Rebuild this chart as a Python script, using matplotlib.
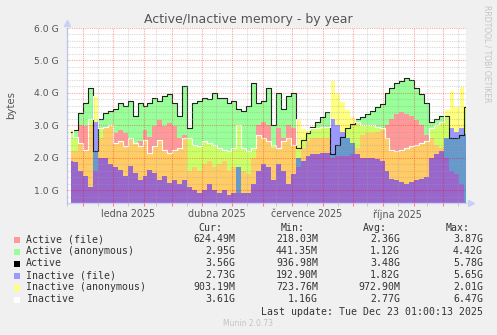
import numpy as np
import matplotlib
matplotlib.use('Agg')
import matplotlib.pyplot as plt
from matplotlib.patches import Rectangle

# samples every 5 days, values in GB
dates = np.arange(np.datetime64('2024-11-19'), np.datetime64('2025-12-25'), np.timedelta64(5, 'D'))

active_file = [2.2, 2.2, 3.0, 2.97, 3.0, 1.6, 2.6, 2.95, 3.0, 2.75,
               2.85, 2.75, 2.6, 2.45, 2.5, 2.85, 2.65, 2.97, 3.17, 2.97,
               3.07, 2.97, 2.6, 2.7, 1.6, 1.7, 1.6, 1.8, 1.9, 1.7,
               1.8, 1.9, 1.6, 1.7, 0.9, 1.6, 1.5, 2.0, 3.0, 3.1,
               3.0, 2.3, 2.9, 2.6, 3.0, 2.9, 1.7, 2.3, 2.5, 2.6,
               2.6, 2.6, 2.6, 2.0, 2.05, 2.05, 2.05, 2.1, 2.3, 2.7,
               2.75, 2.75, 2.8, 2.85, 3.0, 3.2, 3.35, 3.4, 3.35, 3.3,
               3.15, 3.0, 2.7, 2.6, 2.4, 2.3, 2.0, 1.6, 1.5, 1.2, 0.62]
active = [2.8, 2.85, 3.38, 3.68, 4.15, 2.2, 3.2, 3.38, 3.43, 3.5,
          3.68, 3.58, 3.74, 3.27, 3.68, 3.58, 3.68, 3.85, 3.74, 3.9,
          3.95, 3.68, 3.3, 4.2, 2.9, 3.7, 3.75, 3.85, 3.8, 4.0,
          3.85, 3.85, 3.7, 3.75, 3.5, 3.45, 3.6, 4.3, 3.7, 3.75,
          4.15, 3.0, 4.0, 3.5, 3.9, 4.0, 2.3, 2.55, 2.75, 2.95,
          3.1, 3.25, 3.4, 2.1, 2.4, 2.65, 2.9, 3.05, 3.2, 3.25,
          3.35, 3.45, 3.55, 3.65, 4.0, 4.15, 4.3, 4.35, 4.45, 4.4,
          4.15, 3.95, 3.7, 3.1, 3.2, 3.3, 3.3, 2.6, 2.6, 2.7, 3.56]
inactive_file = [1.9, 1.85, 1.6, 1.42, 1.1, 3.1, 2.0, 2.0, 1.8, 1.7,
                 1.62, 1.42, 1.75, 1.52, 1.31, 1.42, 1.62, 1.52, 1.31, 1.42,
                 1.21, 1.31, 1.2, 1.3, 1.1, 1.0, 0.9, 1.0, 1.2, 1.0,
                 0.9, 1.0, 0.85, 0.9, 1.7, 0.9, 0.9, 1.2, 1.6, 1.8,
                 1.7, 1.3, 1.8, 1.6, 1.2, 1.5, 2.0, 1.9, 2.05, 2.1,
                 2.1, 2.15, 2.15, 3.2, 3.0, 2.8, 2.6, 2.45, 2.1, 2.0,
                 2.0, 2.0, 1.95, 1.9, 1.6, 1.35, 1.3, 1.25, 1.2, 1.25,
                 1.3, 1.35, 1.4, 2.0, 2.1, 2.2, 2.6, 2.9, 2.8, 2.9, 2.73]
inactive = [2.9, 2.65, 2.45, 2.24, 3.2, 3.9, 2.9, 2.95, 3.0, 2.45,
            2.5, 2.35, 2.6, 2.45, 2.35, 2.55, 2.13, 2.35, 2.55, 2.24,
            2.13, 2.24, 2.3, 2.6, 2.6, 2.4, 2.35, 2.5, 2.45, 2.4,
            2.3, 2.25, 2.2, 2.3, 3.0, 2.3, 2.2, 2.3, 2.7, 2.6,
            2.5, 2.4, 2.3, 2.5, 2.6, 2.4, 3.2, 2.9, 2.85, 2.9,
            2.9, 2.95, 2.95, 4.4, 4.0, 3.75, 3.5, 3.3, 3.1, 3.0,
            3.0, 3.0, 2.95, 2.9, 2.6, 2.25, 2.2, 2.25, 2.3, 2.35,
            2.4, 2.45, 2.5, 2.9, 3.0, 3.1, 3.5, 4.1, 3.6, 4.2, 3.61]

legend_names = ['Active (file)', 'Active (anonymous)', 'Active',
                'Inactive (file)', 'Inactive (anonymous)', 'Inactive']
legend_colors = ['#ff9999', '#99ff99', '#000000', '#9999ff', '#ffff80', '#ffffff']
cur = ['624.49M', '2.95G', '3.56G', '2.73G', '903.19M', '3.61G']
mins = ['218.03M', '441.35M', '936.98M', '192.90M', '723.76M', '1.16G']
avgs = ['2.36G', '1.12G', '3.48G', '1.82G', '972.90M', '2.77G']
maxs = ['3.87G', '4.42G', '5.78G', '5.65G', '2.01G', '6.47G']

month_labels = ['ledna 2025', 'dubna 2025', 'července 2025', 'října 2025']
label_dates = np.array(['2025-01-16', '2025-04-16', '2025-07-16', '2025-10-16'], dtype='datetime64[D]')

af = np.array(active_file)
a = np.array(active)
fi = np.array(inactive_file)
i = np.array(inactive)

W, H = 497, 335
fig = plt.figure(figsize=(W / 100, H / 100), dpi=100)
fig.patch.set_facecolor('#f0f0f0')
ax = fig.add_axes([67 / W, 1 - 203 / H, (466 - 67) / W, (203 - 28) / H])
ax.set_facecolor('white')

# active and inactive stacks overlap, each overlap gets its own colour
bands = [
    (0 * af, np.minimum(af, fi), '#9966cc'),
    (fi, np.minimum(af, i), '#ffcc66'),
    (i, af, '#ff9999'),
    (af, np.minimum(a, fi), '#6699cc'),
    (np.maximum(af, fi), np.minimum(a, i), '#ccff66'),
    (np.maximum(af, i), a, '#99ff99'),
    (a, fi, '#9999ff'),
    (np.maximum(a, fi), i, '#ffff80'),
]
for lo, hi, c in bands:
    ax.fill_between(dates, lo, np.maximum(lo, hi), step='mid', color=c, lw=0)

ax.step(dates, a, where='mid', color='black', lw=0.8, alpha=0.85)
ax.step(dates, i, where='mid', color='white', lw=0.8)

ax.set_xlim(dates[0], dates[-1])
ax.set_ylim(0.6, 6.0)

# grid: months / mid-month, whole and fifth gigabytes
month_starts = np.arange(np.datetime64('2024-12'), np.datetime64('2026-01'), np.timedelta64(1, 'M')).astype('datetime64[D]')
mid_months = month_starts - np.timedelta64(16, 'D')
mid_months = np.append(mid_months, month_starts[-1] + np.timedelta64(15, 'D'))
ax.set_xticks(month_starts)
ax.set_xticklabels([])
ax.set_xticks(mid_months, minor=True)
ax.set_xticklabels([], minor=True)
for d, lab in zip(label_dates, month_labels):
    ax.text(d, -0.035, lab, transform=ax.get_xaxis_transform(), ha='center', va='top',
            fontsize=6.9, color='#555555')

ax.set_yticks(np.arange(1, 7))
ax.set_yticklabels(['%.1f G' % v for v in range(1, 7)], fontsize=6.7, color='#555555')
ax.set_yticks(np.arange(0.6, 6.01, 0.2), minor=True)

ax.grid(which='major', color='#ff0000', alpha=0.35, ls=(0, (1, 1)), lw=0.8)
ax.grid(which='minor', color='#a0a0a0', alpha=0.4, ls=(0, (1, 1)), lw=0.8)
ax.set_axisbelow(False)

ax.tick_params(axis='x', which='major', length=2, color='#ff8080', pad=2)
ax.tick_params(axis='x', which='minor', length=2, color='#c0c0c0')
ax.tick_params(axis='y', which='both', length=0, pad=6)
for s in ['top', 'right']:
    ax.spines[s].set_visible(False)
for s in ['left', 'bottom']:
    ax.spines[s].set_color('#c8d0f8')
    ax.spines[s].set_linewidth(1.0)
ax.plot([0], [1.03], marker='^', color='#c8d0f8', ms=5, transform=ax.transAxes, clip_on=False)
ax.plot([1.012], [0], marker='>', color='#c8d0f8', ms=5, transform=ax.transAxes, clip_on=False)


def px(x, y):
    return x / W, 1 - y / H


fig.text(*px(248, 20), 'Active/Inactive memory - by year', ha='center', va='center',
         fontsize=9, color='#555555')
fig.text(*px(11, 105), 'bytes', ha='center', va='center', rotation=90, fontsize=7.3, color='#555555')
fig.text(*px(487, 5), 'RRDTOOL / TOBI OETIKER', ha='center', va='top', rotation=270,
         fontsize=5.5, color='#c4c4c4')

mono = dict(family='DejaVu Sans Mono', fontsize=7.1, color='#333333', va='center')
for x, h in zip([222, 305, 387, 470], ['Cur:', 'Min:', 'Avg:', 'Max:']):
    fig.text(*px(x, 227.7), h, ha='right', **mono)
for k, name in enumerate(legend_names):
    y = 239.5 + 12 * k
    fig.patches.append(Rectangle(px(14, y + 3), 6 / W, 6 / H, transform=fig.transFigure,
                                 facecolor=legend_colors[k], edgecolor='none'))
    fig.text(*px(26, y), name, ha='left', **mono)
    for x, col in zip([235, 318, 400, 483], [cur, mins, avgs, maxs]):
        fig.text(*px(x, y), col[k], ha='right', **mono)
fig.text(*px(483, 311.7), 'Last update: Tue Dec 23 01:00:13 2025', ha='right', **mono)
fig.text(*px(248, 324), 'Munin 2.0.73', ha='center', va='center', fontsize=5.5, color='#c4c4c4')

fig.savefig('out.png', dpi=100, facecolor=fig.get_facecolor())
